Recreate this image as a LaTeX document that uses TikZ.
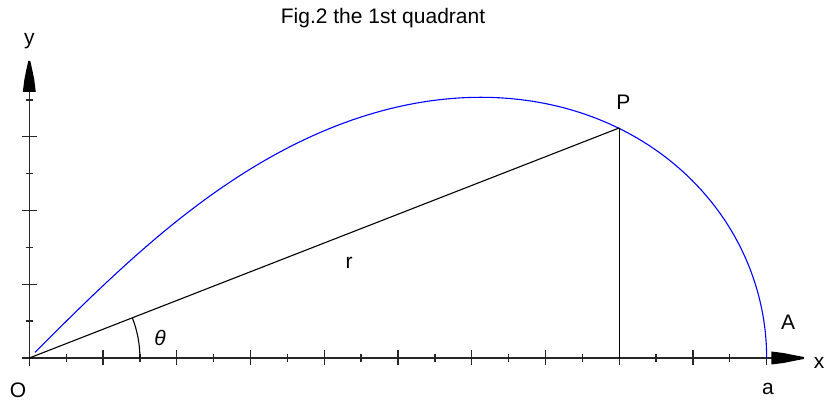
\documentclass[tikz,border=0pt]{standalone}
\usepackage{fontspec}
\setmainfont{Liberation Sans}
\begin{document}
\begin{tikzpicture}[x=1pt,y=1pt,
  lbl/.style={inner sep=0pt,font=\fontsize{21}{25}\selectfont},
  axisline/.style={line width=1.3pt,black!85},
  tickline/.style={line width=1.3pt,black!85},
  thinline/.style={line width=1.1pt,black},
  curveline/.style={line width=1.1pt,blue}]
\useasboundingbox (0,0) rectangle (826,401);
\def\U{73.74}
\begin{scope}[shift={(29.3,43)}]
  \coordinate (O) at (0,0);
  \coordinate (Aend) at ({10*\U},0);
  \coordinate (P) at ({8*\U},{8*0.38995*\U});
  \coordinate (Pfoot) at ({8*\U},0);
  \coordinate (xs) at (-7,0);
  \coordinate (xe) at (743,0);
  \coordinate (ys) at (0,-8);
  \coordinate (ye) at (0,267);
  % axes
  \draw[axisline] (xs) -- (xe);
  \draw[axisline] (ys) -- (ye);
  % arrow heads
  \fill[black] (742,-6.5) -- (742,6.5) -- (754,5) -- (764,3) -- (774.5,1) -- (774.5,-1) -- (764,-3) -- (754,-5) -- cycle;
  \fill[black] (-6.5,266) -- (6.5,266) -- (5,278) -- (3,288) -- (1,297) -- (-1,297) -- (-3,288) -- (-5,278) -- cycle;
  % ticks
  \foreach \i in {1,...,20}{
    \pgfmathsetmacro{\len}{ifthenelse(mod(\i,2)==0,7.5,3.8)}
    \draw[tickline] ({\i*\U/2},-\len) -- ({\i*\U/2},\len);
  }
  \foreach \i in {1,...,7}{
    \pgfmathsetmacro{\len}{ifthenelse(mod(\i,2)==0,7.5,3.8)}
    \draw[tickline] (-\len,{\i*\U/2}) -- (\len,{\i*\U/2});
  }
  % lemniscate r^2 = a^2 cos 2theta, first quadrant
  \draw[curveline] plot[domain=0:45,samples=600]
    ({10*\U*sqrt(max(cos(2*\x),0))*cos(\x)},{10*\U*sqrt(max(cos(2*\x),0))*sin(\x)});
  % radius and perpendicular
  \draw[thinline] (O) -- (P);
  \draw[thinline] (P) -- (Pfoot);
  % angle arc
  \draw[thinline] ({1.5*\U},0) arc (0:21.30:{1.5*\U});
\end{scope}
% labels
\node[lbl] (title) at (383,383) {Fig.2 the 1st quadrant};
\node[lbl] (ylbl) at (29.3,360) {y};
\node[lbl] (xlbl) at (819,38) {x};
\node[lbl] (Olbl) at (18,11) {O};
\node[lbl] (albl) at (768,12) {a};
\node[lbl] (Albl) at (788,79) {A};
\node[lbl] (Plbl) at (623.3,298.3) {P};
\node[lbl] (rlbl) at (349,138) {r};
\node[lbl] (thlbl) at (160,63) {\itshape θ};
\end{tikzpicture}
\end{document}
